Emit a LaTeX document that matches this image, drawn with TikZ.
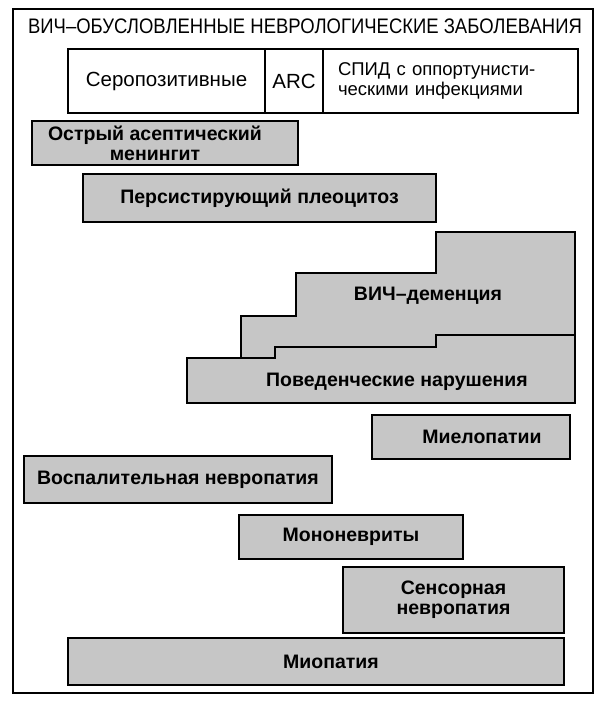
\documentclass[tikz,border=0pt]{standalone}
\usepackage{fontspec}
\setmainfont{Liberation Sans}
\newfontfamily\narrowfont[FakeStretch=0.88]{Liberation Sans}
\usepackage{tikz}
\usetikzlibrary{positioning}
\definecolor{bargray}{HTML}{C6C6C6}
\newcommand{\barfont}{\bfseries\fontsize{19.5}{20}\selectfont}
\newcommand{\headfont}{\fontsize{20.5}{20}\selectfont}

\begin{document}
\begin{tikzpicture}[x=1pt,y=-1pt,
 bar/.style={draw,line width=1.8pt,fill=bargray,align=center,inner sep=0pt,font=\barfont},
 stairs/.style={draw,line width=1.8pt,fill=bargray,line join=miter},
 lbl/.style={inner sep=0pt,font=\barfont},
 cell/.style={draw,line width=1.4pt,inner sep=0pt,minimum height=64pt,font=\headfont}]
\useasboundingbox (0,0) rectangle (599,701);
\draw[line width=1.8pt] (13,9) rectangle (593,693);
\node[inner sep=0pt,font=\narrowfont\fontsize{21}{21}\selectfont] (title) at (305,26) {ВИЧ–ОБУСЛОВЛЕННЫЕ НЕВРОЛОГИЧЕСКИЕ ЗАБОЛЕВАНИЯ};
% stages of infection
\node[cell,minimum width=197pt] (sero) at (166.5,81) {Серопозитивные};
\node[cell,minimum width=58pt] (arc) at (294,81) {ARC};
\node[cell,minimum width=255pt,text width=225pt,inner xsep=15pt,align=left,
 font=\fontsize{18.5}{20}\selectfont] (spid) at (450.5,81) {СПИД с оппортунисти-\\ческими инфекциями};
% disorders
\node[bar,minimum width=266pt,minimum height=44pt] (mening) at (165,143) {};
\node[lbl,align=center] (meningtxt) at (155,143) {Острый асептический\\менингит};
\node[bar,minimum width=353pt,minimum height=48pt] (pleo) at (259.5,198) {Персистирующий плеоцитоз};
\draw[stairs] (436,232) -- (575,232) -- (575,335) -- (436,335) -- (436,347) -- (275,347)
 -- (275,358) -- (241,358) -- (241,316) -- (296,316) -- (296,273) -- (436,273) -- cycle;
\draw[stairs] (575,335) -- (575,403) -- (187,403) -- (187,358) -- (275,358) -- (275,347)
 -- (436,347) -- (436,335) -- cycle;
\node[lbl] (dement) at (428,296) {ВИЧ–деменция};
\node[lbl] (behav) at (397,382) {Поведенческие нарушения};
\node[bar,minimum width=198pt,minimum height=44pt] (myelo) at (471,437) {};
\node[lbl] (myelotxt) at (482,437) {Миелопатии};
\node[bar,minimum width=308pt,minimum height=47pt] (neurop) at (178,479.5) {Воспалительная невропатия};
\node[bar,minimum width=224pt,minimum height=44pt] (mononeur) at (351,537) {Мононевриты};
\node[bar,minimum width=221pt,minimum height=66pt] (sensor) at (453.5,600) {Сенсорная\\невропатия};
\node[bar,minimum width=496pt,minimum height=47pt] (myopat) at (316,661.5) {};
\node[lbl] (myopattxt) at (331,661.5) {Миопатия};
\end{tikzpicture}
\end{document}
